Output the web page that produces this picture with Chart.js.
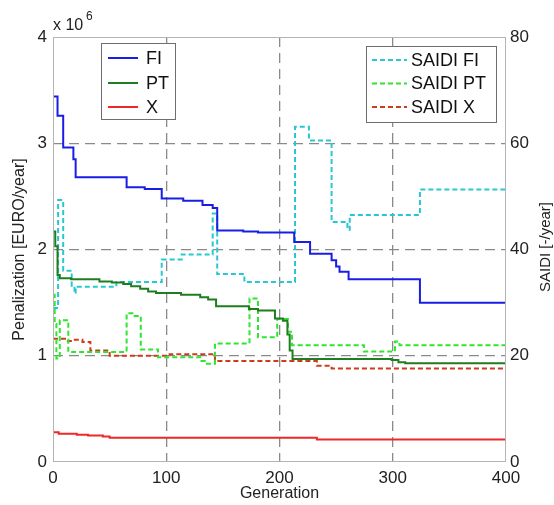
<!DOCTYPE html>
<html>
<head>
<meta charset="utf-8">
<script src="https://cdn.jsdelivr.net/npm/chart.js@4"></script>
<style>
  body { margin: 0; background: #fff; }
</style>
</head>
<body>
<canvas id="myChart" width="554" height="505"></canvas>
<script>
// penalization, x 10^6 EURO/year (left axis)
const fiGen = [0, 4, 9, 18, 20, 65, 81, 96, 115, 132, 141, 145, 168, 181, 213, 227, 246, 250, 253, 261, 324, 400];
const fiPen = [3.44, 3.26, 2.96, 2.85, 2.68, 2.585, 2.57, 2.48, 2.46, 2.42, 2.39, 2.18, 2.17, 2.16, 2.07, 1.96, 1.90, 1.84, 1.79, 1.72, 1.50, 1.50];

const ptGen = [0, 2, 4, 6, 16, 41, 52, 62, 69, 77, 84, 91, 113, 130, 137, 144, 173, 181, 196, 203, 207, 209, 211.5, 299, 305, 311, 400];
const ptPen = [2.17, 2.03, 1.76, 1.73, 1.72, 1.70, 1.69, 1.675, 1.655, 1.63, 1.605, 1.59, 1.575, 1.55, 1.53, 1.465, 1.44, 1.425, 1.35, 1.33, 1.2, 1.05, 0.97, 0.96, 0.94, 0.93, 0.93];

const xGen = [0, 5, 21, 31, 44, 50, 233, 400];
const xPen = [0.28, 0.265, 0.257, 0.25, 0.24, 0.228, 0.212, 0.212];

// SAIDI, -/year (right axis)
const saidiFiGen = [0, 4.5, 9, 16.5, 19, 20, 56, 96, 113.6, 141, 145, 169, 213.7, 226, 246, 260, 262, 324, 400];
const saidiFi = [29, 49.3, 36, 33.2, 31.7, 33.0, 33.9, 38.1, 39.05, 46.8, 35.4, 33.9, 63.1, 60.5, 45.2, 43.7, 46.5, 51.3, 51.3];

const saidiPtGen = [0, 1.5, 3, 6, 13.5, 65, 71, 77.5, 92.7, 130, 134, 143, 173.5, 181, 198, 207.5, 211, 274.5, 302, 306, 400];
const saidiPt = [31.5, 26, 19.5, 26.7, 20.7, 28.0, 27.5, 21.2, 19.7, 19.0, 18.5, 22.3, 30.8, 23.5, 26.9, 24.5, 22.0, 20.8, 22.7, 22.0, 22.0];

const saidiXGen = [0, 12, 17, 26, 33, 50, 103, 143, 233, 246, 400];
const saidiX = [23.2, 22.8, 23.0, 22.6, 21.0, 20.0, 20.3, 19.0, 18.1, 17.6, 17.6];

const xTicks = [0, 100, 200, 300, 400];

const FONT = "'Liberation Sans', Arial, Helvetica, sans-serif";

function pts(gen, vals) {
    return gen.map((g, i) => ({ x: g, y: vals[i] }));
}

function line(label, gen, vals, color, axis, dashed) {
    return {
        label: label,
        data: pts(gen, vals),
        borderColor: color,
        backgroundColor: color,
        borderWidth: 2,
        borderDash: dashed ? [5, 3] : [],
        pointRadius: 0,
        stepped: true,
        yAxisID: axis
    };
}

// legends, title on the right and the 10^6 multiplier
const extras = {
    id: 'extras',
    afterDraw(chart) {
        const c = chart.ctx;
        const a = chart.chartArea;
        const ds = chart.data.datasets;
        c.save();

        c.strokeStyle = '#b4b4b4';
        c.lineWidth = 1;
        c.strokeRect(a.left + 0.5, a.top + 0.5, a.right - a.left - 1, a.bottom - a.top - 1);

        function legendBox(x, y, w, h, items, lx1, lx2, tx, rows) {
            c.fillStyle = '#fff';
            c.fillRect(x, y, w, h);
            c.strokeStyle = '#6e6e6e';
            c.lineWidth = 1;
            c.strokeRect(x + 0.5, y + 0.5, w, h);
            c.font = '18px ' + FONT;
            c.textBaseline = 'middle';
            c.textAlign = 'left';
            items.forEach((d, i) => {
                c.strokeStyle = d.borderColor;
                c.lineWidth = 2;
                c.setLineDash(d.borderDash);
                c.beginPath();
                c.moveTo(lx1, rows[i]);
                c.lineTo(lx2, rows[i]);
                c.stroke();
                c.setLineDash([]);
                c.fillStyle = '#111';
                c.fillText(d.label, tx, rows[i] + 1);
            });
        }
        legendBox(101, 43, 74, 76, ds.slice(0, 3), 108, 138, 146, [58, 83, 107]);
        legendBox(366, 46, 130, 76, ds.slice(3), 372, 407, 411, [60, 83.5, 107]);

        c.fillStyle = '#222';
        c.textAlign = 'left';
        c.textBaseline = 'middle';
        c.font = '16px ' + FONT;
        c.fillText('x 10', 53, 26);
        c.font = '12px ' + FONT;
        c.fillText('6', 86, 17);

        c.translate(546, 247);
        c.rotate(-Math.PI / 2);
        c.textAlign = 'center';
        c.font = '15px ' + FONT;
        c.fillText('SAIDI [-/year]', 0, 0);
        c.restore();
    }
};

const gridColor = (lo, hi) => (ctx) =>
    (ctx.tick && (ctx.tick.value === lo || ctx.tick.value === hi)) ? 'rgba(0,0,0,0)' : '#8a8a8a';

const ctx = document.getElementById('myChart');

new Chart(ctx, {
    type: 'line',
    data: {
        datasets: [
            line('FI', fiGen, fiPen, 'rgb(25, 30, 230)', 'y', false),
            line('PT', ptGen, ptPen, 'rgb(30, 125, 30)', 'y', false),
            line('X', xGen, xPen, 'rgb(238, 40, 40)', 'y', false),
            line('SAIDI FI', saidiFiGen, saidiFi, 'rgb(40, 200, 210)', 'y1', true),
            line('SAIDI PT', saidiPtGen, saidiPt, 'rgb(45, 230, 45)', 'y1', true),
            line('SAIDI X', saidiXGen, saidiX, 'rgb(205, 60, 30)', 'y1', true)
        ]
    },
    options: {
        responsive: false,
        maintainAspectRatio: false,
        animation: false,
        layout: { padding: { top: 37, left: 0, right: 0, bottom: 0 } },
        plugins: {
            legend: { display: false },
            tooltip: { enabled: false }
        },
        scales: {
            x: {
                type: 'linear',
                min: 0,
                max: 400,
                afterBuildTicks: (s) => { s.ticks = xTicks.map(v => ({ value: v })); },
                afterFit: (s) => { s.height = 43; },
                grid: { color: gridColor(0, 400), lineWidth: 1.3, drawTicks: false },
                border: { display: false, dash: [10, 6] },
                ticks: { padding: 6, color: '#222', font: { family: FONT, size: 17 } },
                title: {
                    display: true,
                    text: 'Generation',
                    color: '#222',
                    padding: { top: 0, bottom: 2 },
                    font: { family: FONT, size: 16 }
                }
            },
            y: {
                position: 'left',
                min: 0,
                max: 4,
                afterFit: (s) => { s.width = 53; },
                grid: { color: gridColor(0, 4), lineWidth: 1.3, drawTicks: false },
                border: { display: false, dash: [10, 6] },
                ticks: { stepSize: 1, padding: 6, color: '#222', font: { family: FONT, size: 17 } },
                title: {
                    display: true,
                    text: 'Penalization [EURO/year]',
                    color: '#222',
                    padding: { top: 10, bottom: 0 },
                    font: { family: FONT, size: 16 }
                }
            },
            y1: {
                position: 'right',
                min: 0,
                max: 80,
                afterFit: (s) => { s.width = 48; },
                grid: { display: false, drawTicks: false },
                border: { display: false },
                ticks: { stepSize: 20, padding: 4, color: '#222', font: { family: FONT, size: 17 } }
            }
        }
    },
    plugins: [extras]
});
</script>
</body>
</html>
